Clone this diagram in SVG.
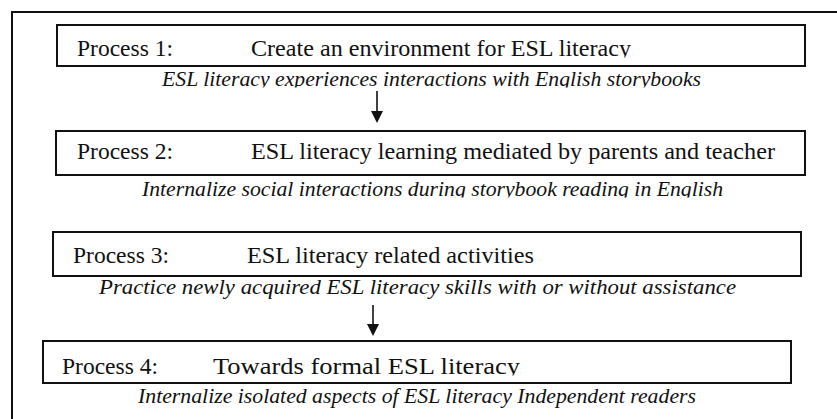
<svg xmlns="http://www.w3.org/2000/svg" width="837" height="419" viewBox="0 0 837 419">
<style>
.box{fill:#fff;stroke:#111;stroke-width:2}
.t{font-family:"Liberation Serif","Times New Roman",serif;font-size:24px;fill:#111}
.s{font-family:"Liberation Serif","Times New Roman",serif;font-size:22px;font-style:italic;fill:#111}
.ln{stroke:#111;stroke-width:1.6;fill:none}
.hd{fill:#111}
</style>
<defs>
<clipPath id="c1"><rect x="0" y="0" width="837" height="57.5"/></clipPath>
<clipPath id="cs1"><rect x="0" y="60" width="837" height="27.5"/></clipPath>
<clipPath id="cs2"><rect x="0" y="176" width="837" height="21.5"/></clipPath>
<clipPath id="c4"><rect x="0" y="342" width="837" height="33.5"/></clipPath>
</defs>
<rect x="12" y="12" width="900" height="500" fill="#fff" stroke="#111" stroke-width="2"/>
<g id="process1">
<rect class="box" x="57" y="25" width="748" height="41"/>
<g clip-path="url(#c1)">
<text class="t" x="77" y="56" textLength="96" lengthAdjust="spacingAndGlyphs">Process 1:</text>
<text class="t" x="251" y="56" textLength="380" lengthAdjust="spacingAndGlyphs">Create an environment for ESL literacy</text>
</g>
<text class="s" x="162" y="86" textLength="539" lengthAdjust="spacingAndGlyphs" clip-path="url(#cs1)">ESL literacy experiences interactions with English storybooks</text>
</g>
<g id="process2">
<rect class="box" x="56" y="131" width="749" height="44"/>
<text class="t" x="77" y="159" textLength="96" lengthAdjust="spacingAndGlyphs">Process 2:</text>
<text class="t" x="251" y="159" textLength="524" lengthAdjust="spacingAndGlyphs">ESL literacy learning mediated by parents and teacher</text>
<text class="s" x="142" y="196" textLength="581" lengthAdjust="spacingAndGlyphs" clip-path="url(#cs2)">Internalize social interactions during storybook reading in English</text>
</g>
<g id="process3">
<rect class="box" x="53" y="232" width="748" height="44"/>
<text class="t" x="73" y="263" textLength="96" lengthAdjust="spacingAndGlyphs">Process 3:</text>
<text class="t" x="247" y="263" textLength="287" lengthAdjust="spacingAndGlyphs">ESL literacy related activities</text>
<text class="s" x="99" y="294" textLength="637" lengthAdjust="spacingAndGlyphs">Practice newly acquired ESL literacy skills with or without assistance</text>
</g>
<g id="process4">
<rect class="box" x="43" y="341" width="748" height="42"/>
<g clip-path="url(#c4)">
<text class="t" x="62" y="374" textLength="96" lengthAdjust="spacingAndGlyphs">Process 4:</text>
<text class="t" x="213" y="374" textLength="307" lengthAdjust="spacingAndGlyphs">Towards formal ESL literacy</text>
</g>
<text class="s" x="138" y="403" textLength="558" lengthAdjust="spacingAndGlyphs">Internalize isolated aspects of ESL literacy Independent readers</text>
</g>
<g id="connectors">
<line class="ln" x1="377" y1="91" x2="377" y2="112"/>
<polygon class="hd" points="371,111 383,111 377,123"/>
<line class="ln" x1="373" y1="305" x2="373" y2="325"/>
<polygon class="hd" points="367,324 379,324 373,336"/>
</g>
</svg>
